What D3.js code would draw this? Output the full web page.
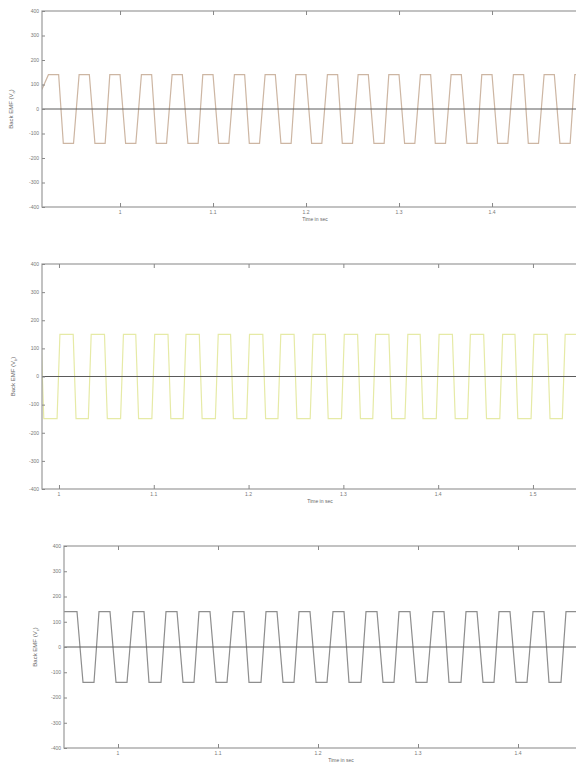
<!DOCTYPE html>
<html>
<head>
<meta charset="utf-8">
<script src="https://cdn.jsdelivr.net/npm/d3@7"></script>
<style>
  body { margin: 0; background: #fff; }
  svg { display: block; font-family: "Liberation Sans", Arial, sans-serif; }
</style>
</head>
<body>
<svg class="chart"></svg>
<script>
// y ticks shared by all three panels
var yTicks = [-400, -300, -200, -100, 0, 100, 200, 300, 400];
// x ticks whose labels fit on the page, per panel
var xTicksA = [1, 1.1, 1.2, 1.3, 1.4];
var xTicksB = [1, 1.1, 1.2, 1.3, 1.4, 1.5];
var xTicksC = [1, 1.1, 1.2, 1.3, 1.4];

// phase a back EMF corners [time, volts]
var emfA = [
  [0.916, 80], [0.923, 140], [0.934, 140], [0.939, -140], [0.950, -140],
  [0.956, 140], [0.967, 140], [0.973, -140], [0.984, -140],
  [0.989, 140], [1.000, 140], [1.006, -140], [1.017, -140],
  [1.023, 140], [1.034, 140], [1.039, -140], [1.050, -140],
  [1.056, 140], [1.067, 140], [1.073, -140], [1.084, -140],
  [1.089, 140], [1.100, 140], [1.106, -140], [1.117, -140],
  [1.123, 140], [1.134, 140], [1.139, -140], [1.150, -140],
  [1.156, 140], [1.167, 140], [1.173, -140], [1.184, -140],
  [1.189, 140], [1.200, 140], [1.206, -140], [1.217, -140],
  [1.223, 140], [1.234, 140], [1.239, -140], [1.250, -140],
  [1.256, 140], [1.267, 140], [1.273, -140], [1.284, -140],
  [1.289, 140], [1.300, 140], [1.306, -140], [1.317, -140],
  [1.323, 140], [1.334, 140], [1.339, -140], [1.350, -140],
  [1.356, 140], [1.367, 140], [1.373, -140], [1.384, -140],
  [1.389, 140], [1.400, 140], [1.406, -140], [1.417, -140],
  [1.423, 140], [1.434, 140], [1.439, -140], [1.450, -140],
  [1.456, 140], [1.467, 140], [1.473, -140], [1.484, -140],
  [1.489, 140], [1.500, 140], [1.506, -140], [1.517, -140]
];

// phase b
var emfB = [
  [0.981, 150], [0.984, -150], [0.998, -150],
  [1.001, 150], [1.015, 150], [1.018, -150], [1.031, -150],
  [1.034, 150], [1.048, 150], [1.051, -150], [1.065, -150],
  [1.068, 150], [1.081, 150], [1.084, -150], [1.098, -150],
  [1.101, 150], [1.115, 150], [1.118, -150], [1.131, -150],
  [1.134, 150], [1.148, 150], [1.151, -150], [1.165, -150],
  [1.168, 150], [1.181, 150], [1.184, -150], [1.198, -150],
  [1.201, 150], [1.215, 150], [1.218, -150], [1.231, -150],
  [1.234, 150], [1.248, 150], [1.251, -150], [1.265, -150],
  [1.268, 150], [1.281, 150], [1.284, -150], [1.298, -150],
  [1.301, 150], [1.315, 150], [1.318, -150], [1.331, -150],
  [1.334, 150], [1.348, 150], [1.351, -150], [1.365, -150],
  [1.368, 150], [1.381, 150], [1.384, -150], [1.398, -150],
  [1.401, 150], [1.415, 150], [1.418, -150], [1.431, -150],
  [1.434, 150], [1.448, 150], [1.451, -150], [1.465, -150],
  [1.468, 150], [1.481, 150], [1.484, -150], [1.498, -150],
  [1.501, 150], [1.515, 150], [1.518, -150], [1.531, -150],
  [1.534, 150], [1.548, 150], [1.551, -150], [1.565, -150]
];

// phase c
var emfC = [
  [0.946, 140], [0.959, 140], [0.965, -140], [0.976, -140],
  [0.981, 140], [0.992, 140], [0.998, -140], [1.009, -140],
  [1.015, 140], [1.026, 140], [1.031, -140], [1.043, -140],
  [1.048, 140], [1.059, 140], [1.065, -140], [1.076, -140],
  [1.081, 140], [1.092, 140], [1.098, -140], [1.109, -140],
  [1.115, 140], [1.126, 140], [1.131, -140], [1.143, -140],
  [1.148, 140], [1.159, 140], [1.165, -140], [1.176, -140],
  [1.181, 140], [1.192, 140], [1.198, -140], [1.209, -140],
  [1.215, 140], [1.226, 140], [1.231, -140], [1.243, -140],
  [1.248, 140], [1.259, 140], [1.265, -140], [1.276, -140],
  [1.281, 140], [1.292, 140], [1.298, -140], [1.309, -140],
  [1.315, 140], [1.326, 140], [1.331, -140], [1.343, -140],
  [1.348, 140], [1.359, 140], [1.365, -140], [1.376, -140],
  [1.381, 140], [1.392, 140], [1.398, -140], [1.409, -140],
  [1.415, 140], [1.426, 140], [1.431, -140], [1.443, -140],
  [1.448, 140], [1.459, 140], [1.465, -140], [1.476, -140],
  [1.481, 140], [1.492, 140], [1.498, -140]
];

var panels = [
  {data: emfA, ticks: xTicksA, sub: "a", color: "#cdb6a3", xDom: [0.9161, 1.5032], box: {l: 42, r: 588, t: 11, b: 207}, lab: 13},
  {data: emfB, ticks: xTicksB, sub: "b", color: "#e6eaa6", xDom: [0.9821, 1.5686], box: {l: 42, r: 598, t: 264, b: 489}, lab: 15},
  {data: emfC, ticks: xTicksC, sub: "c", color: "#8e8e8e", xDom: [0.946, 1.5], box: {l: 64, r: 618, t: 546, b: 748}, lab: 37}
];

var svg = d3.select(".chart").attr("width", 576).attr("height", 763);

panels.forEach(function(p, i) {
  var b = p.box;
  var x = d3.scaleLinear().domain(p.xDom).range([b.l, b.r]);
  var y = d3.scaleLinear().domain([-400, 400]).range([b.b, b.t]);

  svg.append("clipPath").attr("id", "clip" + i)
    .append("rect").attr("x", b.l).attr("y", b.t).attr("width", b.r - b.l).attr("height", b.b - b.t);

  var g = svg.append("g");

  // waveform
  var line = d3.line().x(function(d) { return x(d[0]); }).y(function(d) { return y(d[1]); });
  g.append("path").datum(p.data)
    .attr("clip-path", "url(#clip" + i + ")")
    .attr("d", line)
    .attr("fill", "none")
    .attr("stroke", p.color)
    .attr("stroke-width", 1.2);

  // zero line
  g.append("line")
    .attr("x1", b.l).attr("x2", b.r).attr("y1", y(0)).attr("y2", y(0))
    .attr("stroke", "#5a5a5a").attr("stroke-width", 1);

  // box
  g.append("rect").attr("x", b.l).attr("y", b.t).attr("width", b.r - b.l).attr("height", b.b - b.t)
    .attr("fill", "none").attr("stroke", "#9a9a9a").attr("stroke-width", 1.2);

  // axes with inward ticks
  var yAx = g.append("g").attr("transform", "translate(" + b.l + ",0)")
    .call(d3.axisRight(y).tickValues(yTicks).tickSize(3).tickFormat(""));
  var xAxB = g.append("g").attr("transform", "translate(0," + b.b + ")")
    .call(d3.axisTop(x).tickValues(p.ticks).tickSize(4).tickFormat(""));
  var xAxT = g.append("g").attr("transform", "translate(0," + b.t + ")")
    .call(d3.axisBottom(x).tickValues(p.ticks).tickSize(4).tickFormat(""));
  [yAx, xAxB, xAxT].forEach(function(a) {
    a.select(".domain").remove();
    a.selectAll("line").attr("stroke", "#888");
  });

  // tick labels
  g.selectAll(".yl").data(yTicks).enter().append("text")
    .attr("x", b.l - 3).attr("y", function(d) { return y(d) + 1.8; })
    .attr("text-anchor", "end").attr("font-size", 5).attr("fill", "#777")
    .text(function(d) { return d; });
  g.selectAll(".xl").data(p.ticks).enter().append("text")
    .attr("x", function(d) { return x(d); }).attr("y", b.b + 7)
    .attr("text-anchor", "middle").attr("font-size", 5).attr("fill", "#777")
    .text(function(d) { return d3.format("~g")(d); });

  // axis titles
  g.append("text")
    .attr("x", (b.l + b.r) / 2).attr("y", b.b + 14)
    .attr("text-anchor", "middle").attr("font-size", 5).attr("fill", "#666")
    .text("Time in sec");
  var yl = g.append("text")
    .attr("transform", "translate(" + p.lab + "," + ((b.t + b.b) / 2) + ") rotate(-90)")
    .attr("text-anchor", "middle").attr("font-size", 6).attr("fill", "#666");
  yl.append("tspan").text("Back EMF (V");
  yl.append("tspan").attr("font-size", 4).attr("dy", 1.5).text(p.sub);
  yl.append("tspan").attr("dy", -1.5).text(")");
});
</script>
</body>
</html>
